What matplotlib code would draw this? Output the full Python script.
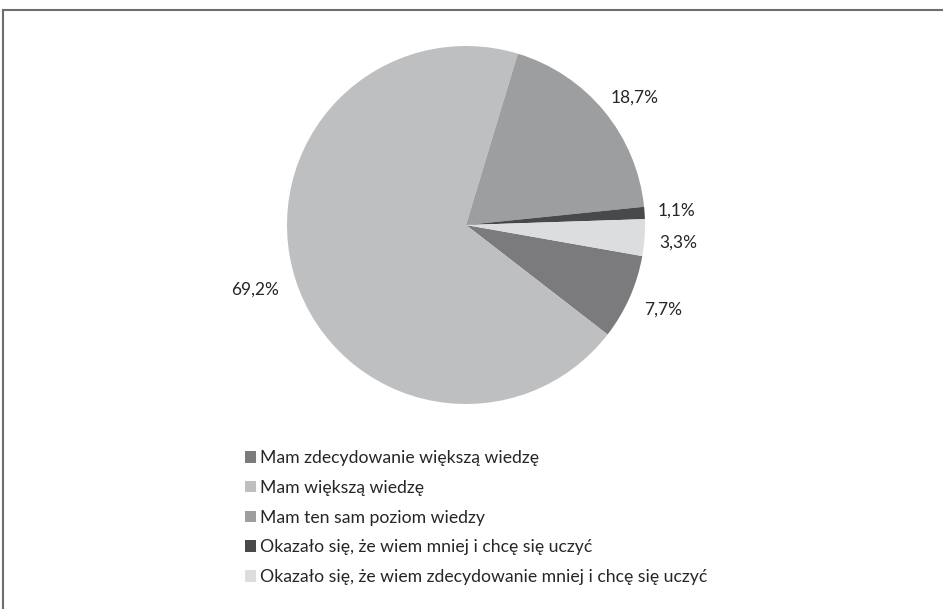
import matplotlib
matplotlib.use("Agg")
import matplotlib.pyplot as plt
from matplotlib.lines import Line2D
from matplotlib.patches import Rectangle

categories = [
    "Mam zdecydowanie większą wiedzę",
    "Mam większą wiedzę",
    "Mam ten sam poziom wiedzy",
    "Okazało się, że wiem mniej i chcę się uczyć",
    "Okazało się, że wiem zdecydowanie mniej i chcę się uczyć",
]
values = [7.7, 69.2, 18.7, 1.1, 3.3]
colors = ["#7b7b7d", "#bebfc1", "#9d9ea0", "#48494b", "#dcdddf"]

plt.rcParams['font.family'] = ['Lato', 'DejaVu Sans']

W, H = 943, 609
fig = plt.figure(figsize=(W / 100, H / 100), dpi=100)

cx, cy, r = 466, 225, 179
ax = fig.add_axes([(cx - r) / W, 1 - (cy + r) / H, 2 * r / W, 2 * r / H])

wedges, texts, autotexts = ax.pie(
    values, colors=colors, startangle=-10, counterclock=False,
    autopct=lambda p: f"{p:.1f}%".replace('.', ','), pctdistance=1.19,
    radius=1.0, wedgeprops=dict(linewidth=0),
    textprops=dict(fontsize=12.5, color="#262626"))
for w in wedges:
    w.set_clip_on(False)
ax.set_xlim(-1, 1)
ax.set_ylim(-1, 1)
ax.set_aspect('equal')
ax.axis('off')

# nudge labels to match the reference placement
nudge = {69.2: (1.04, 1.0), 18.7: (1.028, 0.937), 3.3: (1.0, 1.2), 7.7: (1.01, 0.98),
         1.1: (0.99, 1.0)}
for t, v in zip(autotexts, values):
    x, y = t.get_position()
    fx, fy = nudge.get(v, (1.0, 1.0))
    t.set_position((x * fx, y * fy))

# legend
handles = [Rectangle((0, 0), 1, 1, facecolor=c, edgecolor='none') for c in colors]
leg = fig.legend(handles, categories, loc='upper left',
                 bbox_to_anchor=(238 / W, 1 - 443 / H), frameon=False,
                 fontsize=12.7, handlelength=0.62, handleheight=0.62,
                 handletextpad=0.25, labelspacing=0.78, borderaxespad=0)
for t in leg.get_texts():
    t.set_color("#262626")

# border
fig.add_artist(Line2D([3 / W, 1], [1 - 10 / H, 1 - 10 / H], transform=fig.transFigure,
                      color="#6e6e6e", linewidth=1.5))
fig.add_artist(Line2D([3 / W, 3 / W], [1 - 10 / H, 0], transform=fig.transFigure,
                      color="#6e6e6e", linewidth=1.5))

fig.savefig("out.png", dpi=100)
